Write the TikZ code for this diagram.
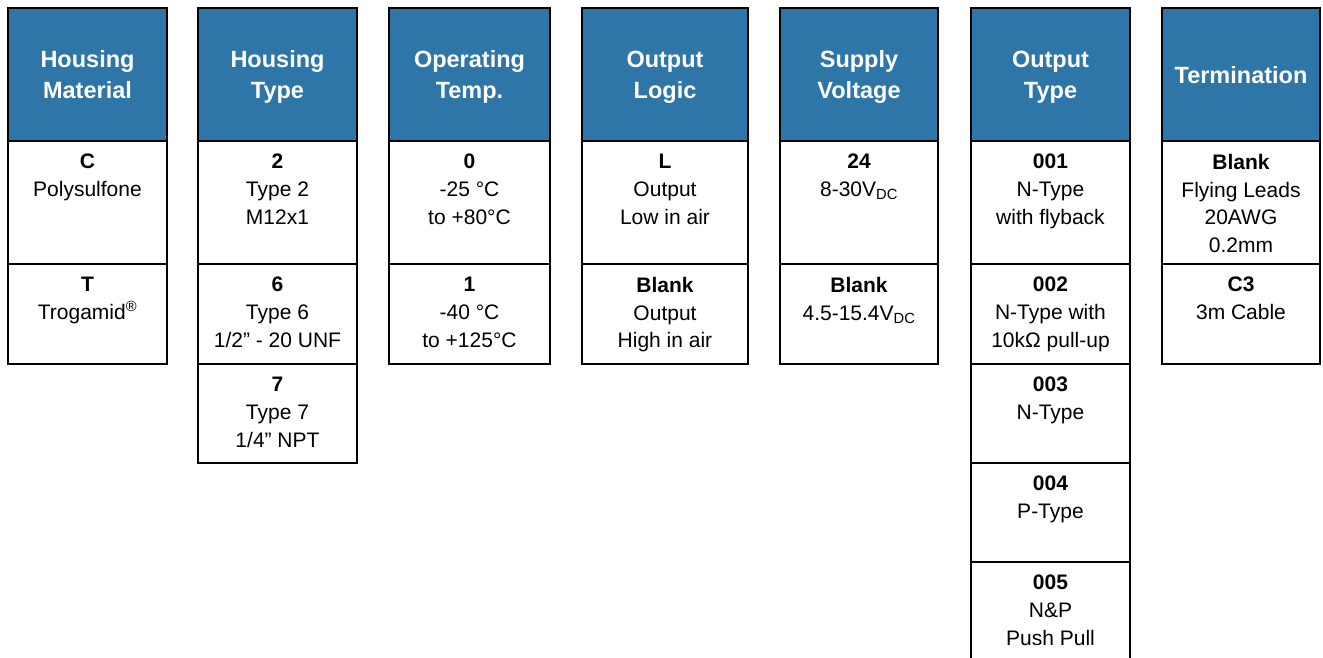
\documentclass[tikz,border=0pt]{standalone}
\usepackage{fontspec}
\setmainfont{Liberation Sans}
\definecolor{hdrblue}{RGB}{46,117,168}
\newcommand\mkcell[5]{\node[cellbox, minimum width=#4pt, minimum height=#5pt] (#1) at (#2,#3) {};}
\newcommand\mktext[2]{\node[bodytext] (#1t) at ([yshift=-13pt]#1.north) {#2};}
\newcommand\subdc{\textsubscript{DC}}
\begin{document}
\begin{tikzpicture}[x=1pt,y=-1pt,
  cellbox/.style={draw=black, line width=1.5pt, inner sep=0pt, outer sep=0pt, fill=white},
  hdrbox/.style={cellbox, fill=hdrblue, text=white, align=center,
    font=\fontsize{23.5}{30.6}\selectfont\bfseries, text depth=0pt},
  bodytext/.style={font=\fontsize{21}{27.7}\selectfont, align=center, inner sep=0pt, anchor=north},
]
\useasboundingbox (0,0) rectangle (1323,657);
% headers
\node[hdrbox, minimum width=159pt, minimum height=133pt] (h1) at (87.5,74.5) {Housing\\Material};
\node[hdrbox, minimum width=159pt, minimum height=133pt] (h2) at (277.5,74.5) {Housing\\Type};
\node[hdrbox, minimum width=161pt, minimum height=133pt] (h3) at (469.5,74.5) {Operating\\Temp.};
\node[hdrbox, minimum width=166pt, minimum height=133pt] (h4) at (665,74.5) {Output\\Logic};
\node[hdrbox, minimum width=158pt, minimum height=133pt] (h5) at (859,74.5) {Supply\\Voltage};
\node[hdrbox, minimum width=159pt, minimum height=133pt] (h6) at (1050.5,74.5) {Output\\Type};
\node[hdrbox, minimum width=158pt, minimum height=133pt] (h7) at (1241,74.5) {Termination};
% column 1
\mkcell{a1}{87.5}{202.5}{159}{123}
\mkcell{a2}{87.5}{314}{159}{100}
\mktext{a1}{\textbf{C}\\Polysulfone}
\mktext{a2}{\textbf{T}\\Trogamid\textsuperscript{®}}
% column 2
\mkcell{b1}{277.5}{202.5}{159}{123}
\mkcell{b2}{277.5}{314}{159}{100}
\mkcell{b3}{277.5}{413.5}{159}{99}
\mktext{b1}{\textbf{2}\\Type 2\\M12x1}
\mktext{b2}{\textbf{6}\\Type 6\\1/2” - 20 UNF}
\mktext{b3}{\textbf{7}\\Type 7\\1/4” NPT}
% column 3
\mkcell{c1}{469.5}{202.5}{161}{123}
\mkcell{c2}{469.5}{314}{161}{100}
\mktext{c1}{\textbf{0}\\-25 °C\\to +80°C}
\mktext{c2}{\textbf{1}\\-40 °C\\to +125°C}
% column 4
\mkcell{d1}{665}{202.5}{166}{123}
\mkcell{d2}{665}{314}{166}{100}
\mktext{d1}{\textbf{L}\\Output\\Low in air}
\mktext{d2}{\textbf{Blank}\\Output\\High in air}
% column 5
\mkcell{e1}{859}{202.5}{158}{123}
\mkcell{e2}{859}{314}{158}{100}
\mktext{e1}{\textbf{24}\\8-30V\subdc}
\mktext{e2}{\textbf{Blank}\\4.5-15.4V\subdc}
% column 6
\mkcell{f1}{1050.5}{202.5}{159}{123}
\mkcell{f2}{1050.5}{314}{159}{100}
\mkcell{f3}{1050.5}{413.5}{159}{99}
\mkcell{f4}{1050.5}{512.5}{159}{99}
\mkcell{f5}{1050.5}{611.5}{159}{99}
\mktext{f1}{\textbf{001}\\N-Type\\with flyback}
\mktext{f2}{\textbf{002}\\N-Type with\\10kΩ pull-up}
\mktext{f3}{\textbf{003}\\N-Type}
\mktext{f4}{\textbf{004}\\P-Type}
\mktext{f5}{\textbf{005}\\N\&P\\Push Pull}
% column 7
\mkcell{g1}{1241}{202.5}{158}{123}
\mkcell{g2}{1241}{314}{158}{100}
\mktext{g1}{\textbf{Blank}\\Flying Leads\\20AWG\\0.2mm}
\mktext{g2}{\textbf{C3}\\3m Cable}
\end{tikzpicture}
\end{document}
